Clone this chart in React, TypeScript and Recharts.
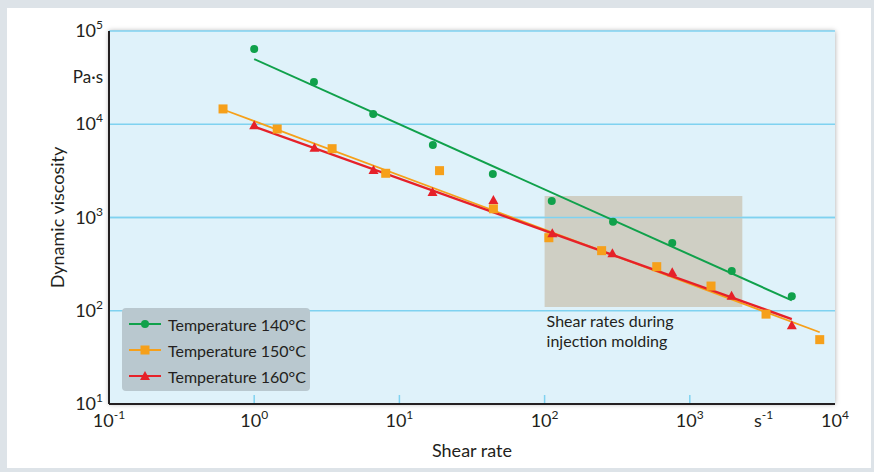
import React from 'react';
import { ComposedChart, Line, Scatter, XAxis, YAxis, CartesianGrid, ReferenceArea, ReferenceLine, Legend } from 'recharts';

const FONT = "Lato, 'Open Sans', sans-serif";
const TEXT = '#231f20';
const GRID = '#7fd2f0';

// measured values (shear rate in 1/s, viscosity in Pa·s)
const rate140 = [1, 2.58, 6.6, 17, 44, 112, 296, 757, 1945, 5040];
const visc140 = [64000, 28400, 12900, 5980, 2920, 1500, 902, 533, 267, 143];
const rate150 = [0.61, 1.44, 3.44, 8.05, 18.9, 44.4, 107, 247, 592, 1400, 3350, 7850];
const visc150 = [14600, 8890, 5470, 2980, 3180, 1240, 607, 441, 297, 184, 92, 49];
const rate160 = [1, 2.6, 6.63, 16.9, 44.4, 113, 293, 757, 1940, 5040];
const visc160 = [9750, 5610, 3230, 1875, 1540, 677, 413, 258, 145, 69.8];

// fitted lines (end points)
const fitRate140 = [1, 5040];
const fitVisc140 = [50000, 129];
const fitRate150 = [0.61, 7850];
const fitVisc150 = [14400, 58.8];
const fitRate160 = [1, 5040];
const fitVisc160 = [9420, 81.5];

// shear rate range during injection molding
const moldingRate = [100, 2300];
const moldingVisc = [110, 1700];

const xTicks = [0.1, 1, 10, 100, 1000, 10000];
const yTicks = [10, 100, 1000, 10000, 100000];

const toPoints = (xs: number[], ys: number[]) => xs.map((x, i) => ({ x, y: ys[i] }));

const series = [
  { name: 'Temperature 140°C', color: '#10a14b', marker: 'circle', width: 2, points: toPoints(rate140, visc140), fit: toPoints(fitRate140, fitVisc140) },
  { name: 'Temperature 150°C', color: '#f6a01a', marker: 'square', width: 1.8, points: toPoints(rate150, visc150), fit: toPoints(fitRate150, fitVisc150) },
  { name: 'Temperature 160°C', color: '#e62129', marker: 'triangle', width: 2.4, points: toPoints(rate160, visc160), fit: toPoints(fitRate160, fitVisc160) },
];

function Marker({ kind, cx, cy, color }: any) {
  if (kind === 'circle') return <circle cx={cx} cy={cy} r={4} fill={color} />;
  if (kind === 'square') return <rect x={cx - 4.5} y={cy - 4.5} width={9} height={9} fill={color} />;
  return <polygon points={`${cx},${cy - 5} ${cx + 5},${cy + 4} ${cx - 5},${cy + 4}`} fill={color} />;
}

const exponent = (v: number) => Math.round(Math.log10(v));

function XTick({ x, y, payload }: any) {
  const e = exponent(payload.value);
  return (
    <g>
      {e > -1 && e < 4 && <line x1={x} x2={x} y1={y - 1} y2={y - 9} stroke={GRID} strokeWidth={1.5} />}
      <text x={x} y={y + 23} textAnchor="middle" fontFamily={FONT} fontSize={18} fill={TEXT}>
        10<tspan dy={-8} fontSize={12}>{e}</tspan>
      </text>
    </g>
  );
}

function YTick({ x, y, payload }: any) {
  const e = exponent(payload.value);
  return (
    <text x={x - 6} y={y + 6} textAnchor="end" fontFamily={FONT} fontSize={18} fill={TEXT}>
      10<tspan dy={-8} fontSize={12}>{e}</tspan>
    </text>
  );
}

function YTitle({ viewBox }: any) {
  const { x, y, width, height } = viewBox;
  const cx = x + 57;
  const cy = y + height / 2;
  return (
    <g fontFamily={FONT} fill={TEXT}>
      <text x={cx} y={cy} transform={`rotate(-90 ${cx} ${cy})`} textAnchor="middle" dominantBaseline="central" fontSize={18}>
        Dynamic viscosity
      </text>
      <text x={x + width - 6} y={y + 52} textAnchor="end" fontSize={17}>Pa·s</text>
    </g>
  );
}

function XTitle({ viewBox }: any) {
  const { x, y, width } = viewBox;
  return (
    <g fontFamily={FONT} fill={TEXT}>
      <text x={x + width / 2} y={y + 53} textAnchor="middle" fontSize={18}>Shear rate</text>
      <text x={754} y={y + 23} fontSize={18}>
        s<tspan dy={-8} fontSize={12}>-1</tspan>
      </text>
    </g>
  );
}

function MoldingLabel({ viewBox }: any) {
  const { x, y, height } = viewBox;
  return (
    <text x={x + 2} y={y + height + 20} fontFamily={FONT} fontSize={16} fill={TEXT}>
      Shear rates during
      <tspan x={x + 2} dy={20}>injection molding</tspan>
    </text>
  );
}

function LegendBox() {
  return (
    <div style={{ background: '#b9c8cf', borderRadius: 4, width: 188, height: 83, paddingTop: 3, boxSizing: 'border-box' }}>
      {series.map((s) => (
        <div key={s.name} style={{ display: 'flex', alignItems: 'center', height: 26, whiteSpace: 'nowrap' }}>
          <svg width={46} height={26} style={{ flexShrink: 0 }}>
            <line x1={7} x2={39} y1={13} y2={13} stroke={s.color} strokeWidth={2} />
            <Marker kind={s.marker} cx={23} cy={13} color={s.color} />
          </svg>
          <span style={{ fontFamily: FONT, fontSize: 16, color: TEXT }}>{s.name}</span>
        </div>
      ))}
    </div>
  );
}

export default function App() {
  return (
    <div style={{ position: 'fixed', left: 0, top: 0, width: 874, height: 472, background: '#dde3e8' }}>
      <div style={{ position: 'absolute', left: 7, top: 8, width: 864, height: 460, background: '#fff' }} />
      <div
        style={{
          position: 'absolute', left: 109, top: 31, width: 726, height: 373,
          background: '#dff2fa', boxShadow: '0 0 5px rgba(0,0,0,0.35)',
        }}
      />
      <div style={{ position: 'absolute', left: 0, top: 0 }}>
        <ComposedChart width={874} height={472} margin={{ top: 31, right: 39, bottom: 0, left: 0 }}>
          <CartesianGrid horizontal vertical={false} stroke={GRID} strokeWidth={1.5} />
          <XAxis
            dataKey="x" type="number" scale="log" domain={[0.1, 10000]} ticks={xTicks}
            allowDataOverflow height={68} tickSize={0} tickMargin={0} tickLine={false}
            axisLine={{ stroke: TEXT, strokeWidth: 2 }} tick={<XTick />} label={XTitle}
          />
          <YAxis
            dataKey="y" type="number" scale="log" domain={[10, 100000]} ticks={yTicks}
            allowDataOverflow width={109} tickSize={0} tickMargin={0} tickLine={false}
            axisLine={{ stroke: TEXT, strokeWidth: 2 }} tick={<YTick />} label={YTitle}
          />
          <YAxis
            yAxisId="right" orientation="right" type="number" scale="log" domain={[10, 100000]}
            width={0} tick={false} tickLine={false} axisLine={{ stroke: GRID, strokeWidth: 2 }}
          />
          <ReferenceArea
            x1={moldingRate[0]} x2={moldingRate[1]} y1={moldingVisc[0]} y2={moldingVisc[1]}
            fill="#cfcfc4" fillOpacity={1} stroke="none" label={MoldingLabel}
          />
          <ReferenceLine y={1000} stroke={GRID} strokeWidth={1.5} />
          {series.map((s) => (
            <Line
              key={`fit-${s.name}`} data={s.fit} dataKey="y" stroke={s.color} strokeWidth={s.width}
              dot={false} activeDot={false} isAnimationActive={false} legendType="none"
            />
          ))}
          {series.map((s) => (
            <Scatter
              key={`pts-${s.name}`} name={s.name} data={s.points} dataKey="y" isAnimationActive={false}
              shape={(p: any) => <Marker kind={s.marker} cx={p.cx} cy={p.cy} color={s.color} />}
            />
          ))}
          <Legend
            layout="vertical" align="center" verticalAlign="middle" content={LegendBox}
            wrapperStyle={{ left: 122, top: 308, width: 188, height: 83 }}
          />
        </ComposedChart>
      </div>
    </div>
  );
}
